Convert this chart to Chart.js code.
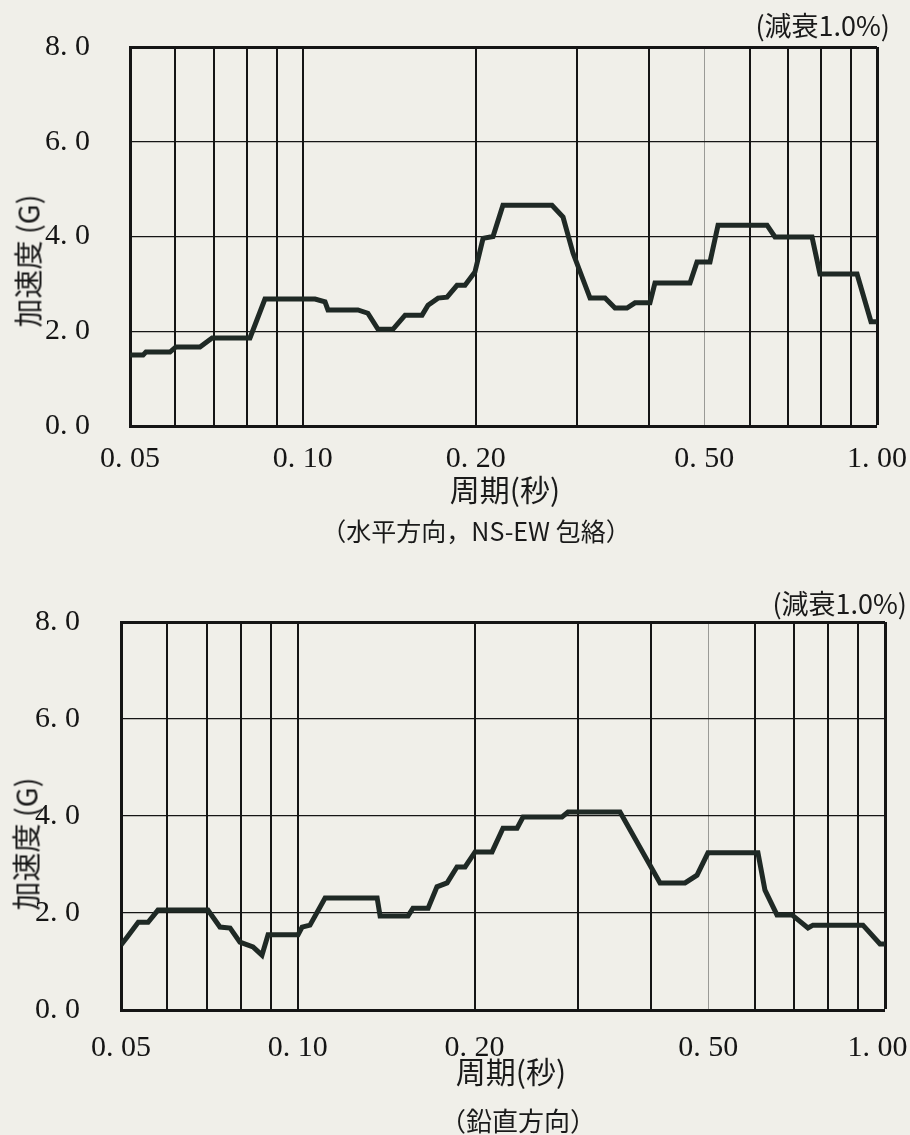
<!DOCTYPE html>
<html>
<head>
<meta charset="utf-8">
<script src="https://cdn.jsdelivr.net/npm/chart.js@4.4.0/dist/chart.umd.min.js"></script>
<style>
  body { margin: 0; background: #f0efe9; }
  #page { position: relative; width: 910px; height: 1135px; overflow: hidden; font-family: 'Noto Sans CJK JP', sans-serif; color: #1a1a1a; }
  .box { position: absolute; left: 0; width: 910px; }
  .txt { position: absolute; white-space: nowrap; line-height: 1; }
  .mid { transform: translate(-50%, -50%); }
  .rot { transform: translate(-50%, -50%) rotate(-90deg); }
</style>
</head>
<body>
<div id="page">
  <div class="box" style="top:0;height:480px"><canvas id="chartH" width="910" height="480"></canvas></div>
  <div class="box" style="top:560px;height:520px"><canvas id="chartV" width="910" height="520"></canvas></div>

  <div class="txt" style="right:20px;top:11px;font-size:27px">(減衰1.0%)</div>
  <div class="txt rot" style="left:27px;top:261px;font-size:29px">加速度 (G)</div>
  <div class="txt mid" style="left:505px;top:488px;font-size:30px">周期(秒)</div>
  <div class="txt mid" style="left:476px;top:530px;font-size:25px">（水平方向，NS-EW 包絡）</div>

  <div class="txt" style="right:3px;top:589px;font-size:27px">(減衰1.0%)</div>
  <div class="txt rot" style="left:25px;top:844px;font-size:29px">加速度 (G)</div>
  <div class="txt mid" style="left:511px;top:1070px;font-size:30px">周期(秒)</div>
  <div class="txt mid" style="left:518px;top:1120px;font-size:26px">（鉛直方向）</div>
</div>

<script>
// grid lines of the period axis (log), and which of them carry a label
let xGridValues = [0.05, 0.06, 0.07, 0.08, 0.09, 0.10, 0.20, 0.30, 0.40, 0.50, 0.60, 0.70, 0.80, 0.90, 1.00];
let xTickLabels = ['0. 05', '', '', '', '', '0. 10', '0. 20', '', '', '0. 50', '', '', '', '', '1. 00'];
let yTickLabels = ['0. 0', '2. 0', '4. 0', '6. 0', '8. 0'];

// horizontal, NS-EW envelope
let periodsH = [0.0500, 0.0527, 0.0533, 0.0587, 0.0601, 0.0662, 0.0695, 0.0809, 0.0859, 0.1050,
  0.1093, 0.1106, 0.1247, 0.1298, 0.1352, 0.1435, 0.1507, 0.1613, 0.1652, 0.1720,
  0.1783, 0.1856, 0.1916, 0.1994, 0.2060, 0.2144, 0.2231, 0.2716, 0.2839, 0.2955,
  0.3164, 0.3360, 0.3497, 0.3669, 0.3789, 0.4023, 0.4105, 0.4724, 0.4858, 0.5118,
  0.5286, 0.6434, 0.6643, 0.7706, 0.7956, 0.9231, 0.9762, 1.0000];
let accelH = [1.50, 1.50, 1.56, 1.56, 1.67, 1.67, 1.86, 1.86, 2.68, 2.68,
  2.62, 2.45, 2.45, 2.38, 2.04, 2.04, 2.34, 2.34, 2.55, 2.70,
  2.72, 2.97, 2.97, 3.25, 3.96, 4.00, 4.66, 4.66, 4.41, 3.65,
  2.70, 2.70, 2.49, 2.49, 2.60, 2.60, 3.02, 3.02, 3.46, 3.46,
  4.24, 4.24, 3.99, 3.99, 3.21, 3.21, 2.20, 2.20];

// vertical
let periodsV = [0.0500, 0.0512, 0.0535, 0.0556, 0.0578, 0.0703, 0.0737, 0.0767, 0.0797, 0.0839,
  0.0869, 0.0890, 0.1001, 0.1017, 0.1049, 0.1113, 0.1365, 0.1381, 0.1541, 0.1571,
  0.1667, 0.1726, 0.1796, 0.1867, 0.1927, 0.2004, 0.2142, 0.2236, 0.2363, 0.2419,
  0.2818, 0.2885, 0.3538, 0.4139, 0.4565, 0.4785, 0.4995, 0.6076, 0.6246, 0.6547,
  0.6944, 0.7393, 0.7540, 0.9172, 0.9806, 1.0000];
let accelV = [1.34, 1.50, 1.81, 1.81, 2.06, 2.06, 1.71, 1.69, 1.40, 1.30,
  1.13, 1.55, 1.55, 1.71, 1.75, 2.31, 2.31, 1.94, 1.94, 2.10,
  2.10, 2.54, 2.62, 2.95, 2.95, 3.26, 3.26, 3.75, 3.75, 3.98,
  3.98, 4.08, 4.08, 2.62, 2.62, 2.78, 3.24, 3.24, 2.47, 1.96,
  1.96, 1.69, 1.75, 1.75, 1.36, 1.36];

let tickFont = { family: "'Liberation Serif', serif", size: 30 };
let inkColor = '#151515';

function makeChart(canvasId, periods, accel, box) {
  let points = [];
  for (let i = 0; i < periods.length; i++) {
    points.push({ x: periods[i], y: accel[i] });
  }

  return new Chart(document.getElementById(canvasId), {
    type: 'line',
    data: {
      datasets: [
        {
          data: points,
          borderColor: '#1f2925',
          borderWidth: 5,
          pointRadius: 0,
          tension: 0,
          fill: false,
        },
      ],
    },
    options: {
      responsive: false,
      animation: false,
      layout: { padding: { top: box.top, right: box.right, left: 0, bottom: 0 } },
      plugins: { legend: { display: false }, tooltip: { enabled: false } },
      scales: {
        x: {
          type: 'logarithmic',
          min: 0.05,
          max: 1.0,
          afterBuildTicks: (scale) => {
            scale.ticks = xGridValues.map((v) => ({ value: v }));
          },
          afterFit: (scale) => {
            scale.height = box.xAxisHeight;
            scale.paddingLeft = 0;
            scale.paddingRight = 0;
          },
          ticks: {
            autoSkip: false,
            maxRotation: 0,
            padding: box.xPad,
            font: tickFont,
            color: inkColor,
            callback: (value, index) => {
              // last label sits a little inside the right edge
              if (index === xGridValues.length - 1) return xTickLabels[index] + box.lastPad;
              return xTickLabels[index];
            },
          },
          grid: {
            drawTicks: false,
            lineWidth: (ctx) => {
              let v = ctx.tick ? ctx.tick.value : 0;
              if (v === 0.05) return 0;
              if (v === 1.0) return 3;
              if (v === 0.5) return 1;
              return 2;
            },
            color: (ctx) => (ctx.tick && ctx.tick.value === 0.5 ? '#9a9a96' : inkColor),
          },
          border: { width: 3, color: inkColor },
        },
        y: {
          min: 0,
          max: 8,
          afterFit: (scale) => {
            scale.width = box.left;
            scale.paddingTop = 0;
            scale.paddingBottom = 0;
          },
          ticks: {
            stepSize: 2,
            padding: box.yPad,
            font: tickFont,
            color: inkColor,
            callback: (value, index) => yTickLabels[index],
          },
          grid: {
            drawTicks: false,
            lineWidth: (ctx) => {
              let v = ctx.tick ? ctx.tick.value : 0;
              if (v === 0) return 0;
              if (v === 8) return 3;
              return 1.3;
            },
            color: inkColor,
          },
          border: { width: 3, color: inkColor },
        },
      },
    },
  });
}

makeChart('chartH', periodsH, accelH, { top: 47, right: 33, left: 130, xAxisHeight: 54, xPad: 15, yPad: 40, lastPad: '' });
makeChart('chartV', periodsV, accelV, { top: 62, right: 25, left: 121, xAxisHeight: 70, xPad: 20, yPad: 41, lastPad: '\u00a0\u00a0' });
</script>
</body>
</html>
